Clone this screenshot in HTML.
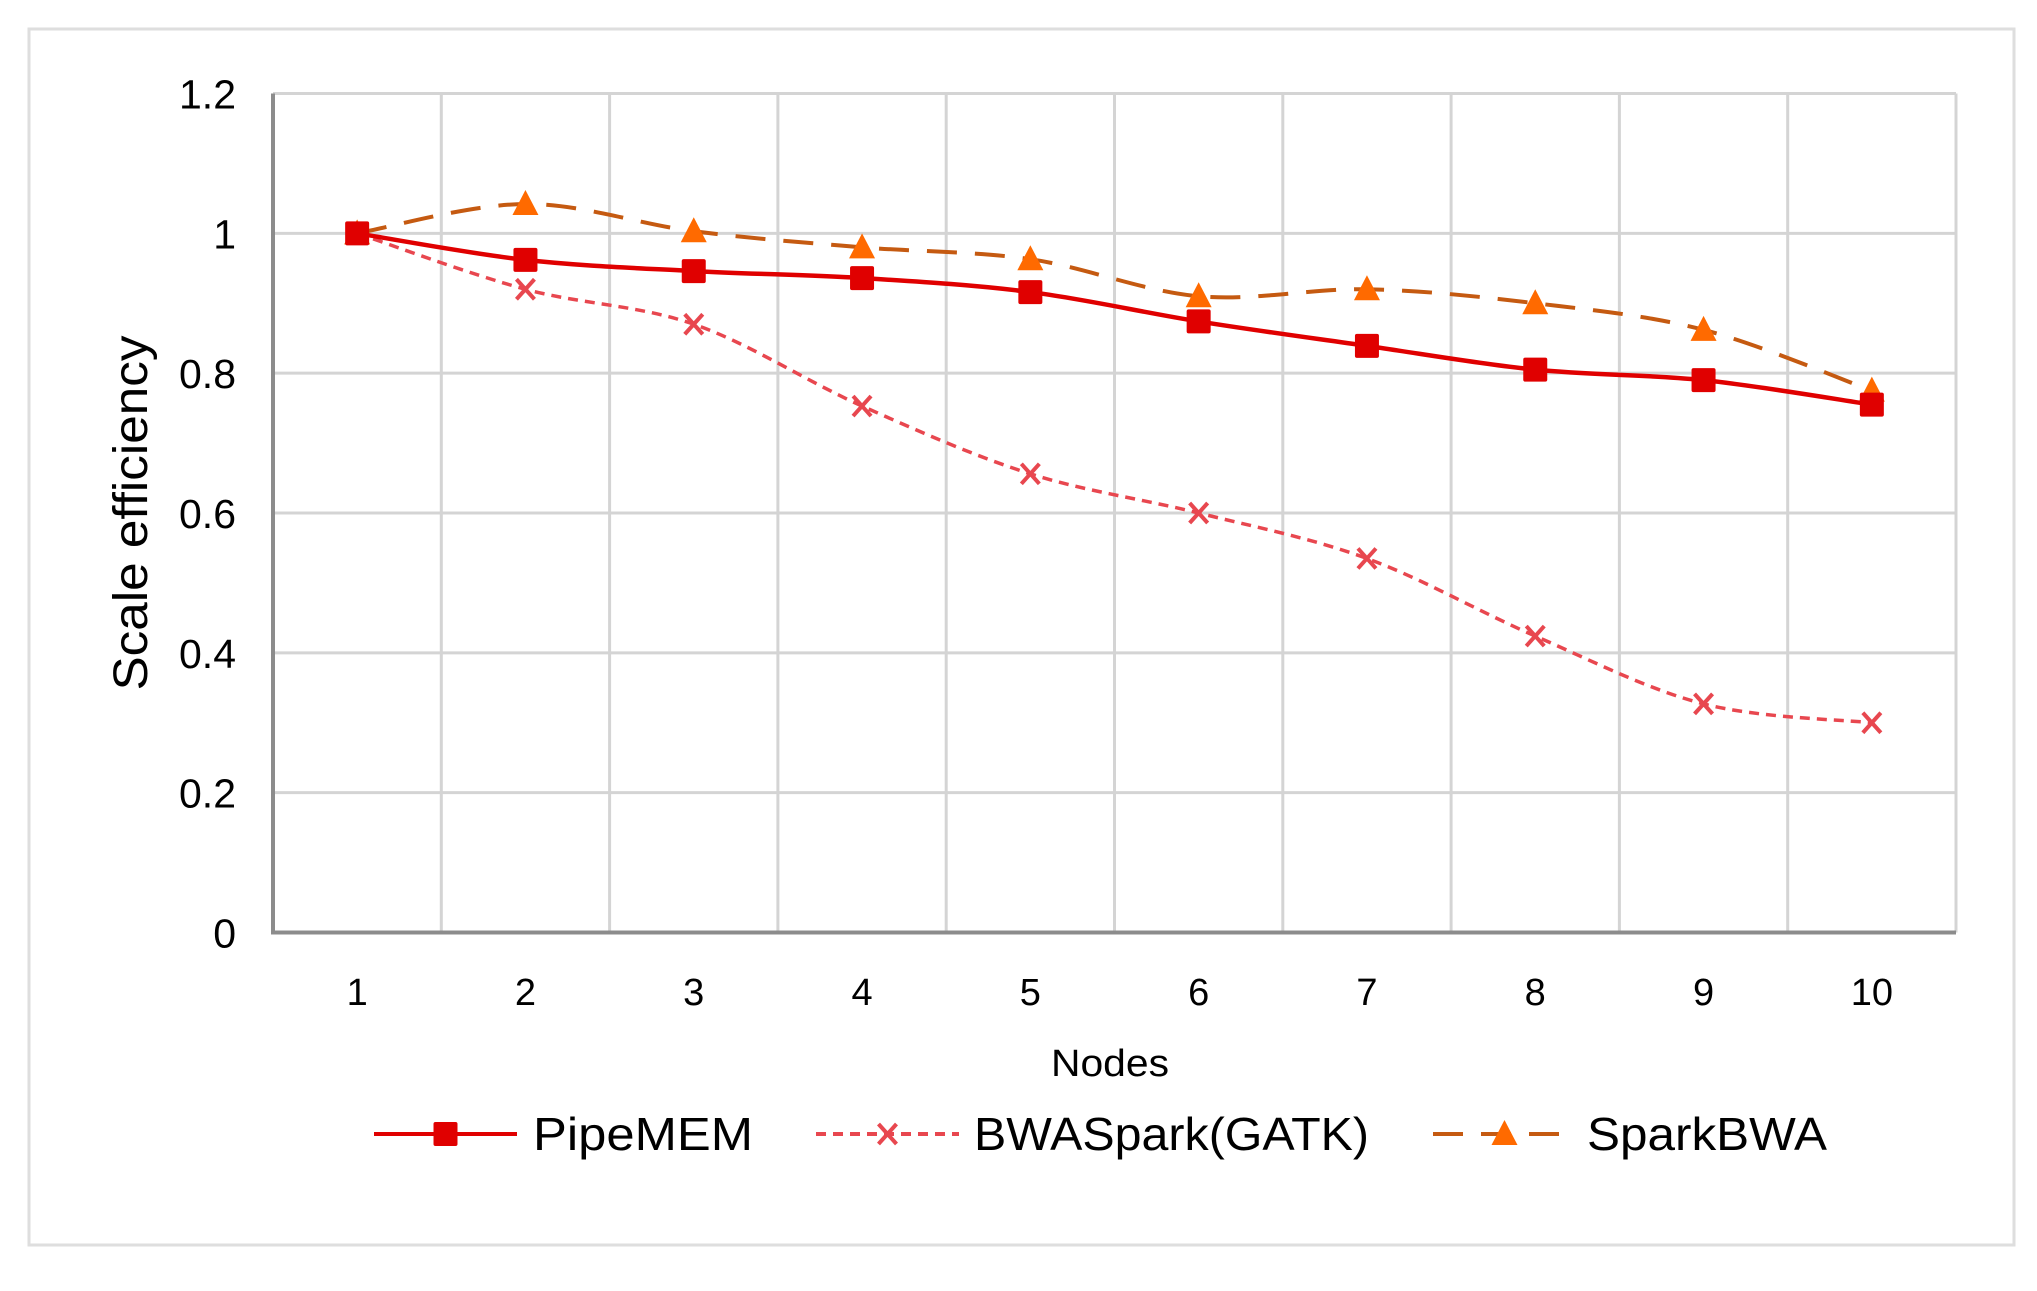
<!DOCTYPE html>
<html><head><meta charset="utf-8"><style>
html,body{margin:0;padding:0;background:#fff;}
svg{display:block;}
text{font-family:"Liberation Sans",sans-serif;fill:#000;}
</style></head><body>
<svg id="chart" width="2037" height="1291" viewBox="0 0 2037 1291" xmlns="http://www.w3.org/2000/svg">
<rect x="29" y="29" width="1985" height="1216" fill="#fff" stroke="#dedede" stroke-width="3"/>
<g id="grid"></g>
<g id="axes"></g>
<g id="series"></g>
<text transform="translate(147,513) rotate(-90)" text-anchor="middle" font-size="48" textLength="355" lengthAdjust="spacingAndGlyphs">Scale efficiency</text>
<text x="1110" y="1076" text-anchor="middle" font-size="38" textLength="118" lengthAdjust="spacingAndGlyphs">Nodes</text>
<g id="legend"></g>
</svg>
<script>
const categories = [1,2,3,4,5,6,7,8,9,10];
const pipeMEM = [1, 0.962, 0.946, 0.936, 0.916, 0.874, 0.839, 0.805, 0.79, 0.755];
const bwaSpark = [1, 0.92, 0.87, 0.753, 0.656, 0.6, 0.535, 0.424, 0.327, 0.3];
const sparkBWA = [1, 1.042, 1.003, 0.98, 0.963, 0.91, 0.92, 0.9, 0.862, 0.775];
const yTicks = [0, 0.2, 0.4, 0.6, 0.8, 1, 1.2];
const yTickLabels = ["0","0.2","0.4","0.6","0.8","1","1.2"];

const NS = "http://www.w3.org/2000/svg";
const L = 273, R = 1956, T = 93.5, B = 932.5;
const yMax = 1.2;
const band = (R - L) / categories.length;
function xPos(i){ return L + band * (i + 0.5); }
function yPos(v){ return B - (v / yMax) * (B - T); }
function mk(tag, attrs, parent){
  const e = document.createElementNS(NS, tag);
  for (const k in attrs) e.setAttribute(k, attrs[k]);
  parent.appendChild(e);
  return e;
}
const grid = document.getElementById('grid');
const axes = document.getElementById('axes');
const series = document.getElementById('series');
const legend = document.getElementById('legend');

yTicks.forEach((t, i) => {
  if (t > 0) {
    const g = mk('line', {x1:L, x2:R, y1:yPos(t), y2:yPos(t), stroke:'#d4d4d4', 'stroke-width':3}, grid);
    
    
  }
  const tx = mk('text', {x:236, y:yPos(t) + 15, 'text-anchor':'end', 'font-size':41}, axes);
  tx.textContent = yTickLabels[i];
  
  
});
for (let i = 1; i <= categories.length; i++) {
  const x = L + band * i;
  const g = mk('line', {x1:x, x2:x, y1:T, y2:B, stroke:'#d4d4d4', 'stroke-width':3}, grid);
  
  
}
const ya = mk('line', {x1:L, x2:L, y1:T, y2:B, stroke:'#8c8c8c', 'stroke-width':4}, axes);


const xa = mk('line', {x1:L-2, x2:R, y1:B, y2:B, stroke:'#8c8c8c', 'stroke-width':4}, axes);


categories.forEach((c, i) => {
  const tx = mk('text', {x:xPos(i), y:1005, 'text-anchor':'middle', 'font-size':38}, axes);
  tx.textContent = c;
  
  
});

function smoothPath(vals){
  const p = vals.map((v, i) => [xPos(i), yPos(v)]);
  let d = `M${p[0][0]},${p[0][1]}`;
  for (let i = 0; i < p.length - 1; i++) {
    const p0 = p[Math.max(i-1,0)], p1 = p[i], p2 = p[i+1], p3 = p[Math.min(i+2,p.length-1)];
    const c1 = [p1[0] + (p2[0]-p0[0])/6, p1[1] + (p2[1]-p0[1])/6];
    const c2 = [p2[0] - (p3[0]-p1[0])/6, p2[1] - (p3[1]-p1[1])/6];
    d += ` C${c1[0]},${c1[1]} ${c2[0]},${c2[1]} ${p2[0]},${p2[1]}`;
  }
  return d;
}
function marker(type, x, y, parent){
  let e;
  if (type === 'square') {
    e = mk('rect', {x:x-12, y:y-12, width:24, height:24, rx:2, fill:'#e00000'}, parent);
  } else if (type === 'x') {
    e = mk('path', {d:`M${x-9},${y-10} L${x+9},${y+10} M${x+9},${y-10} L${x-9},${y+10}`, stroke:'#e8474f', 'stroke-width':4, fill:'none'}, parent);
  } else {
    e = mk('path', {d:`M${x},${y-14} L${x+13},${y+11} L${x-13},${y+11} Z`, fill:'#ff6a00'}, parent);
  }
  return e;
}
const defs = [
  {vals:bwaSpark, name:'bwaspark-gatk', color:'#e8474f', dash:'10,7', width:3.5, m:'x'},
  {vals:sparkBWA, name:'sparkbwa', color:'#c55a11', dash:'30,18', width:4, m:'tri'},
  {vals:pipeMEM, name:'pipemem', color:'#e00000', dash:'', width:4.5, m:'square'}
];
defs.forEach(s => {
  const g = mk('g', {}, series);
  
  
  const path = mk('path', {d:smoothPath(s.vals), fill:'none', stroke:s.color, 'stroke-width':s.width, 'stroke-dasharray':s.dash}, g);
  
  
  s.vals.forEach((v, i) => {
    const e = marker(s.m, xPos(i), yPos(v), g);
    
    
  });
});

const legendItems = [
  {label:'PipeMEM', name:'pipemem', color:'#e00000', dash:'', m:'square', x1:374, x2:517, tx:533, tw:220},
  {label:'BWASpark(GATK)', name:'bwaspark-gatk', color:'#e8474f', dash:'10,7', m:'x', x1:816, x2:959, tx:974, tw:395},
  {label:'SparkBWA', name:'sparkbwa', color:'#c55a11', dash:'30,18', m:'tri', x1:1433, x2:1576, tx:1587, tw:240}
];
const ly = 1134;
legendItems.forEach(it => {
  const g = mk('g', {}, legend);
  
  
  mk('line', {x1:it.x1, x2:it.x2, y1:ly, y2:ly, stroke:it.color, 'stroke-width':4, 'stroke-dasharray':it.dash}, g);
  marker(it.m, (it.x1 + it.x2) / 2, ly, g);
  const t = mk('text', {x:it.tx, y:ly + 16, 'font-size':46, textLength:it.tw, lengthAdjust:'spacingAndGlyphs'}, g);
  t.textContent = it.label;
});
</script>
</body></html>
